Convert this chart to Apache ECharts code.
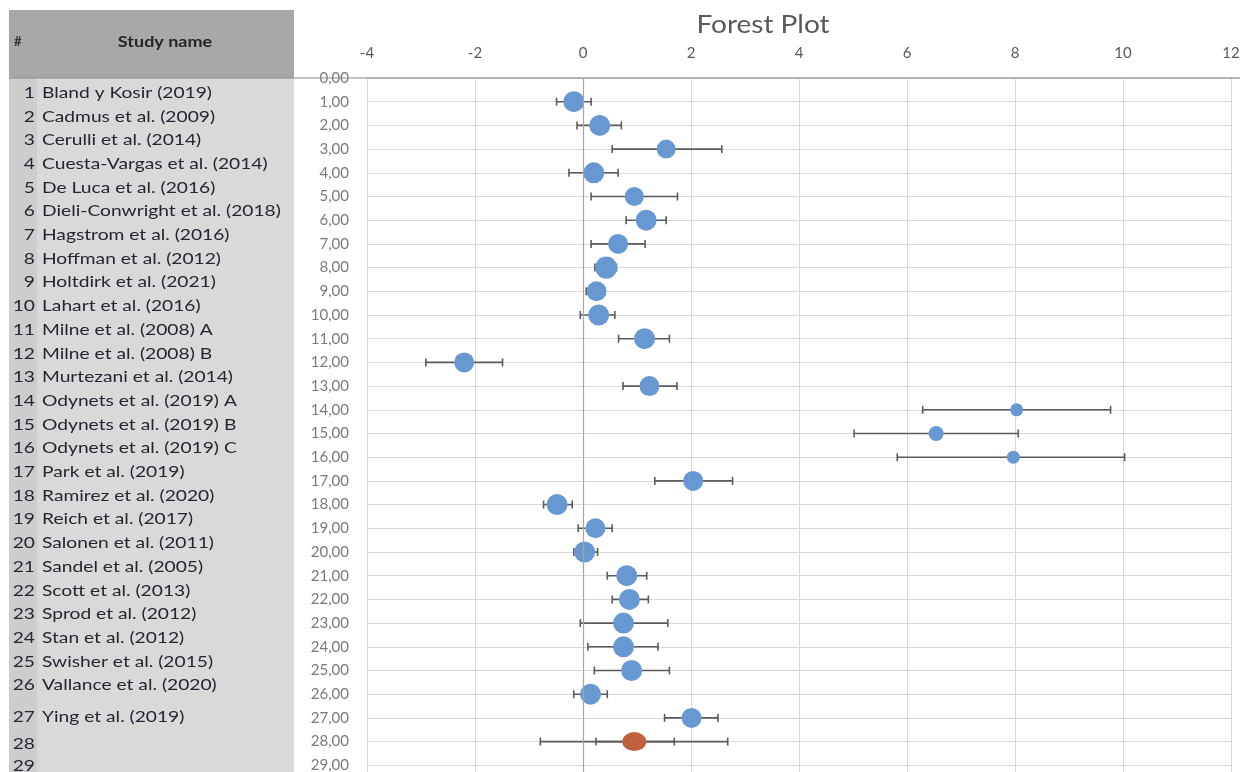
<!DOCTYPE html>
<html><head><meta charset="utf-8">
<script src="https://cdn.jsdelivr.net/npm/echarts@6/dist/echarts.min.js"></script>
<style>html,body{margin:0;padding:0;background:#fff}#c{width:1240px;height:772px}</style>
</head><body><div id="c"></div>
<script>
// ---------- DATA ----------
const studies = [
  "Bland y Kosir (2019)", "Cadmus et al. (2009)", "Cerulli et al. (2014)",
  "Cuesta-Vargas et al. (2014)", "De Luca et al. (2016)", "Dieli-Conwright et al. (2018)",
  "Hagstrom et al. (2016)", "Hoffman et al. (2012)", "Holtdirk et al. (2021)",
  "Lahart et al. (2016)", "Milne et al. (2008) A", "Milne et al. (2008) B",
  "Murtezani et al. (2014)", "Odynets et al. (2019) A", "Odynets et al. (2019) B",
  "Odynets et al. (2019) C", "Park et al. (2019)", "Ramirez et al. (2020)",
  "Reich et al. (2017)", "Salonen et al. (2011)", "Sandel et al. (2005)",
  "Scott et al. (2013)", "Sprod et al. (2012)", "Stan et al. (2012)",
  "Swisher et al. (2015)", "Vallance et al. (2020)", "Ying et al. (2019)", "", ""
];
const effect = [-0.17, 0.31, 1.54, 0.20, 0.95, 1.17, 0.65, 0.43, 0.25, 0.29,
  1.14, -2.20, 1.23, 8.03, 6.54, 7.97, 2.04, -0.48, 0.23, 0.03,
  0.81, 0.86, 0.75, 0.75, 0.90, 0.14, 2.01];
const ciLow = [-0.49, -0.11, 0.54, -0.26, 0.15, 0.80, 0.15, 0.22, 0.06, -0.05,
  0.66, -2.91, 0.74, 6.29, 5.02, 5.82, 1.33, -0.73, -0.09, -0.17,
  0.45, 0.54, -0.05, 0.09, 0.21, -0.17, 1.51];
const ciHigh = [0.15, 0.71, 2.57, 0.65, 1.75, 1.54, 1.15, 0.62, 0.41, 0.59,
  1.60, -1.49, 1.74, 9.77, 8.06, 10.03, 2.77, -0.20, 0.54, 0.27,
  1.18, 1.21, 1.57, 1.39, 1.60, 0.45, 2.50];
const summaryEffect = 0.95;
const summaryCI = [0.24, 1.69];
const summaryPI = [-0.79, 2.68];
const xTickLabels = { min: -4, max: 12, interval: 2 };

// ---------- STYLE ----------
const markerSize = [21, 21, 19, 21, 19, 21, 20, 22, 20, 21, 21, 20, 20, 13, 15, 13, 20, 21, 20, 21,
  21, 21, 21, 21, 21, 21, 20];
const FONT = 'Lato';
const blue = '#6898d2';
const orange = '#c1603e';
const SX = 1.2; // horizontal stretch of the reference's text

const chart = echarts.init(document.getElementById('c'), null, { renderer: 'canvas' });

const barData = effect.map((v, i) => [ciLow[i], ciHigh[i], i + 1]);
barData.push([summaryPI[0], summaryPI[1], 28]);
barData.push([summaryCI[0], summaryCI[1], 28]);

function renderBar(params, api) {
  const a = api.coord([api.value(0), api.value(2)]);
  const b = api.coord([api.value(1), api.value(2)]);
  const h = 4;
  const st = { stroke: '#5a5a5a', lineWidth: 1.6 };
  return {
    type: 'group',
    children: [
      { type: 'line', shape: { x1: a[0], y1: a[1], x2: b[0], y2: b[1] }, style: st },
      { type: 'line', shape: { x1: a[0], y1: a[1] - h, x2: a[0], y2: a[1] + h }, style: st },
      { type: 'line', shape: { x1: b[0], y1: b[1] - h, x2: b[0], y2: b[1] + h }, style: st }
    ]
  };
}

// left table graphics
const rowExtra = { 27: 8, 28: 11, 29: 10 };
function rowY(n) { return 92.7 + (n - 1) * 23.7 + (rowExtra[n] || 0); }
const graphics = [
  { type: 'rect', shape: { x: 9, y: 78, width: 285, height: 700 }, style: { fill: '#d9d9d9' }, z: 0 },
  { type: 'rect', shape: { x: 9, y: 78, width: 28, height: 700 }, style: { fill: '#cdcdcd' }, z: 0 },
  { type: 'rect', shape: { x: 9, y: 10, width: 285, height: 68 }, style: { fill: '#a8a8a8' }, z: 0 },
  { type: 'line', shape: { x1: 9, y1: 78, x2: 367, y2: 78 }, style: { stroke: '#8c8c8c', lineWidth: 1.2 }, z: 10 },
  { type: 'line', shape: { x1: 1231, y1: 78, x2: 1240, y2: 78 }, style: { stroke: '#a0a0a0', lineWidth: 1.5 }, z: 10 },
  { type: 'text', x: 14, y: 42, style: { text: '#', font: 'bold 13px ' + FONT, fill: '#333', verticalAlign: 'middle' }, z: 5 },
  { type: 'text', x: 165, y: 42, scaleX: SX, style: { text: 'Study name', font: 'bold 15px ' + FONT, fill: '#262626', align: 'center', verticalAlign: 'middle' }, z: 5 },
  { type: 'text', x: 763, y: 25, scaleX: 1.12, style: { text: 'Forest Plot', font: '25px ' + FONT, fill: '#595959', align: 'center', verticalAlign: 'middle' }, z: 5 }
];
studies.forEach((s, i) => {
  const n = i + 1;
  const y = rowY(n);
  graphics.push({ type: 'text', x: 35, y: y, scaleX: SX, style: { text: String(n), font: '16px ' + FONT, fill: '#262633', align: 'right', verticalAlign: 'middle' }, z: 5 });
  if (s) graphics.push({ type: 'text', x: 42, y: y, scaleX: SX, style: { text: s, font: '16px ' + FONT, fill: '#262633', align: 'left', verticalAlign: 'middle' }, z: 5 });
});

chart.setOption({
  backgroundColor: '#fff',
  animation: false,
  grid: { left: 367, right: 9, top: 78, bottom: -17, containLabel: false, outerBoundsMode: 'none' },
  xAxis: {
    type: 'value', position: 'top', min: xTickLabels.min, max: xTickLabels.max, interval: xTickLabels.interval,
    axisLine: { show: true, lineStyle: { color: '#a0a0a0', width: 1.5 } },
    axisTick: { show: false },
    axisLabel: { margin: 17, color: '#595959', fontFamily: FONT, fontSize: 15 },
    splitLine: { show: true, lineStyle: { color: '#d9d9d9', width: 1 } }
  },
  yAxis: {
    type: 'value', inverse: true, min: 0, max: 30, interval: 1,
    axisLine: { show: false }, axisTick: { show: false },
    axisLabel: { margin: 18, color: '#7a7a7a', fontFamily: FONT, fontSize: 15,
      formatter: v => v.toFixed(2).replace('.', ',') },
    splitLine: { show: true, lineStyle: { color: '#d9d9d9', width: 1 } }
  },
  graphic: graphics,
  series: [
    {
      type: 'custom', renderItem: renderBar, data: barData, z: 3,
      encode: { x: [0, 1], y: 2 }, silent: true
    },
    {
      type: 'scatter', z: 4, symbol: 'circle',
      data: effect.map((v, i) => [v, i + 1]),
      symbolSize: (val, p) => markerSize[p.dataIndex],
      itemStyle: { color: blue, opacity: 1 },
      markLine: {
        silent: true, symbol: 'none', label: { show: false },
        lineStyle: { color: '#a6a6a6', width: 1.2, type: 'solid' },
        data: [{ xAxis: 0 }]
      }
    },
    {
      type: 'scatter', z: 4, symbol: 'circle',
      data: [[summaryEffect, 28]],
      symbolSize: [24, 19],
      itemStyle: { color: orange, opacity: 1 }
    }
  ]
});
</script>
</body></html>
